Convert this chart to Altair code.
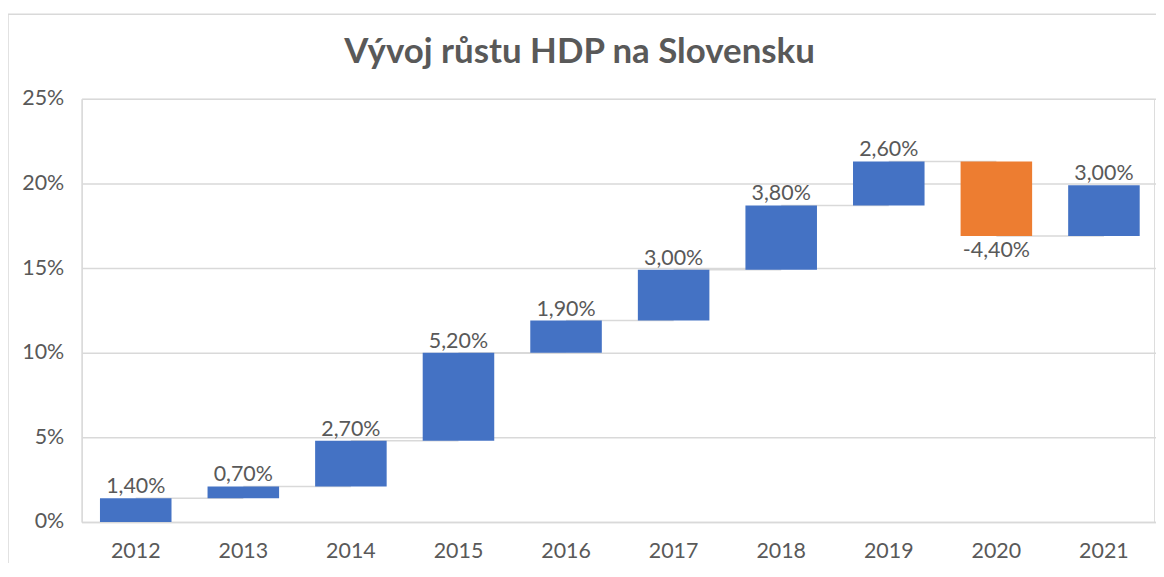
import altair as alt
import pandas as pd

years = ["2012", "2013", "2014", "2015", "2016", "2017", "2018", "2019", "2020", "2021"]
changes = [1.4, 0.7, 2.7, 5.2, 1.9, 3.0, 3.8, 2.6, -4.4, 3.0]
y_ticks = [0, 5, 10, 15, 20, 25]
title_text = "Vývoj růstu HDP na Slovensku"

rows = []
cum = 0.0
for i, (yr, ch) in enumerate(zip(years, changes)):
    start = cum
    cum = round(cum + ch, 4)
    rows.append({
        "year": yr,
        "change": ch,
        "start": start,
        "end": cum,
        "top": max(start, cum),
        "bottom": min(start, cum),
        "sign": "pos" if ch >= 0 else "neg",
        "label": f"{ch:.2f}".replace(".", ",") + "%",
        "next": years[i + 1] if i + 1 < len(years) else None,
    })
df = pd.DataFrame(rows)
conn = df[df["next"].notna()]

FONT = "Lato"
TXT = "#595959"
GRID = "#d9d9d9"
W, H = 1077, 425

x = alt.X("year:N", sort=years, title=None,
          scale=alt.Scale(paddingInner=0.335, paddingOuter=0.17, range=[0, W + 4]),
          axis=alt.Axis(labelAngle=0, labelFont=FONT, labelFontSize=21.5, labelColor=TXT,
                        ticks=False, labelPadding=19, domainColor=GRID, domainWidth=1.5,
                        grid=False))
yscale = alt.Scale(domain=[0, 25])

one = pd.DataFrame({"a": [0]})
frame_top = alt.Chart(one).mark_rule(color=GRID, strokeWidth=1.5, clip=False).encode(
    x=alt.value(-74), x2=alt.value(W + 10), y=alt.value(-85))
frame_left = alt.Chart(one).mark_rule(color=GRID, strokeWidth=1.5, clip=False).encode(
    x=alt.value(-74), y=alt.value(-85), y2=alt.value(H + 60))

title = alt.Chart(pd.DataFrame({"t": [title_text]})).mark_text(
    font=FONT, fontSize=35, fontWeight="bold", color=TXT, baseline="alphabetic", align="center"
).encode(x=alt.value(500), y=alt.value(-36), text="t:N")

connectors = alt.Chart(conn).mark_rule(color=GRID, strokeWidth=1.5).encode(
    x=x,
    x2="next:N",
    y=alt.Y("end:Q", scale=yscale),
)

bars = alt.Chart(df).mark_bar().encode(
    x=x,
    y=alt.Y("start:Q", scale=yscale, title=None,
            axis=alt.Axis(values=y_ticks, labelExpr="datum.value + '%'", labelFont=FONT,
                          labelFontSize=21.5, labelColor=TXT, ticks=False, labelPadding=18,
                          gridColor=GRID, gridWidth=1.5, domainColor=GRID, domainWidth=1.5)),
    y2="end:Q",
    color=alt.Color("sign:N", scale=alt.Scale(domain=["pos", "neg"], range=["#4472C4", "#ED7D31"]),
                    legend=None),
)

pos_labels = alt.Chart(df).transform_filter("datum.change >= 0").mark_text(
    font=FONT, fontSize=21.5, color=TXT, baseline="alphabetic", dy=-5
).encode(x=x, y=alt.Y("top:Q", scale=yscale), text="label:N")

neg_labels = alt.Chart(df).transform_filter("datum.change < 0").mark_text(
    font=FONT, fontSize=21.5, color=TXT, baseline="top", dy=4
).encode(x=x, y=alt.Y("bottom:Q", scale=yscale), text="label:N")

chart = alt.layer(frame_top, frame_left, title, connectors, bars, pos_labels, neg_labels).properties(
    width=W, height=H,
    autosize=alt.AutoSizeParams(type="none"),
    padding={"left": 74, "top": 90, "right": 2, "bottom": 40},
).configure_view(stroke=None).configure(background="white")

chart.save("out.html", embed_options={"renderer": "svg", "actions": False})
